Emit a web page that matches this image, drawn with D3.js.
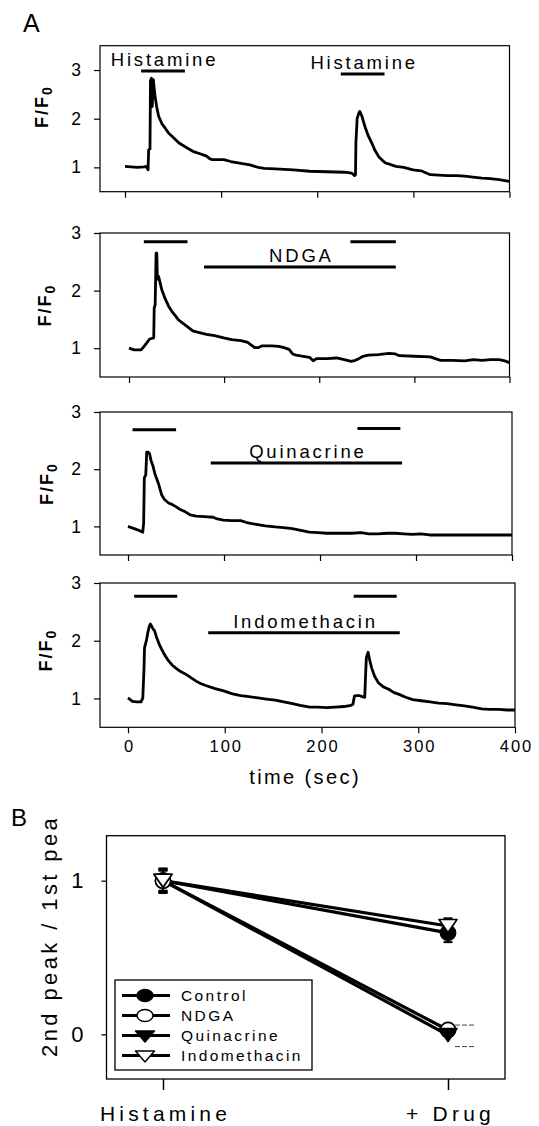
<!DOCTYPE html>
<html><head><meta charset="utf-8">
<script src="https://cdn.jsdelivr.net/npm/d3@7"></script>
<style>
body{margin:0;background:#fff}
svg{display:block}
text{font-family:"Liberation Sans",Arial,sans-serif;fill:#000}
</style>
</head><body>
<svg id="c" width="539" height="1126"></svg>
<script>
// ---------- DATA ----------
const timeTicks = [0, 100, 200, 300, 400];
const ratioTicks = [1, 2, 3];

const histamineTrace = [[0,1.02],[6,1.01],[13,1.0],[20,1.01],[22.2,1.02],[24,0.95],[24.6,1.36],[26,1.38],[26.5,2.78],[27.5,2.83],[28.3,2.25],[29.5,2.8],[31,2.5],[32.9,2.25],[35,2.05],[38.3,1.9],[42,1.8],[45.5,1.7],[50,1.62],[56.2,1.5],[63,1.42],[70.5,1.33],[78,1.28],[84.9,1.23],[88,1.18],[90,1.16],[94,1.16],[102.8,1.16],[110,1.12],[120.7,1.08],[130,1.05],[138.6,1.0],[145,0.98],[156.5,0.97],[175,0.95],[192.3,0.92],[210,0.91],[228.1,0.9],[236,0.88],[238.9,0.83],[239.8,0.85],[240.2,1.5],[241.5,2.0],[243,2.1],[244.2,2.15],[246.5,2.05],[249.6,1.84],[253,1.65],[256.8,1.5],[260,1.35],[263.9,1.22],[268,1.14],[271.1,1.09],[276,1.06],[281.8,1.02],[290,1.0],[299.7,0.95],[308,0.93],[317.6,0.85],[326,0.84],[335.5,0.83],[345,0.83],[353.4,0.82],[362,0.8],[371.3,0.78],[380,0.77],[389.3,0.75],[395,0.73],[400,0.71]];
const ndgaTrace = [[0,1.0],[5.4,0.97],[12.7,0.97],[16.3,1.04],[19,1.1],[21.7,1.16],[26,1.18],[26.5,1.7],[27.5,1.75],[28.5,2.65],[29.2,2.65],[29.8,2.2],[31,2.25],[34.4,2.02],[38,1.86],[41.6,1.73],[45,1.64],[48.9,1.56],[52,1.49],[56.1,1.44],[61,1.38],[67,1.3],[74,1.27],[81.5,1.24],[90,1.22],[99.6,1.18],[108,1.15],[117.7,1.13],[124.9,1.1],[128,1.06],[132.1,1.01],[136,1.01],[139.4,1.04],[150,1.04],[157.5,1.03],[163,1.01],[168.3,0.98],[172,0.9],[175.6,0.88],[183,0.86],[190,0.84],[193.7,0.78],[197,0.82],[208.2,0.82],[218,0.83],[226.3,0.8],[233.5,0.77],[238,0.79],[240.7,0.81],[246,0.86],[251.6,0.88],[262,0.89],[273.3,0.91],[280,0.9],[284.2,0.87],[300,0.86],[316.8,0.85],[322,0.82],[327.6,0.79],[340,0.79],[352.9,0.78],[362,0.8],[371,0.79],[380,0.8],[389.2,0.8],[395,0.78],[400,0.75]];
const quinacrineTrace = [[0,1.0],[5,0.97],[10,0.94],[15.4,0.9],[16.3,1.06],[17,1.85],[18.5,1.9],[19.5,2.3],[21,2.3],[22.5,2.27],[24,2.15],[26.1,2.05],[28,1.92],[31.5,1.76],[35.1,1.55],[38,1.47],[42.2,1.41],[45,1.39],[49.4,1.35],[55,1.29],[60.1,1.25],[65,1.2],[70.8,1.18],[80,1.17],[88.7,1.16],[93,1.13],[99.5,1.11],[108,1.1],[117.4,1.1],[125,1.06],[135.2,1.03],[143,1.01],[153.1,0.99],[162,0.98],[171,0.96],[180,0.93],[188.9,0.9],[198,0.89],[206.8,0.88],[215,0.88],[224.7,0.88],[233,0.88],[242.6,0.89],[251,0.87],[260.5,0.87],[270,0.88],[278.4,0.88],[287,0.87],[296.3,0.86],[305,0.87],[314.1,0.85],[323,0.85],[332,0.85],[350,0.85],[367.8,0.85],[385,0.85],[400,0.85]];
const indomethacinTrace = [[0,1.01],[4.6,0.95],[9,0.94],[13.5,0.94],[15.3,1.01],[16.5,1.5],[17.1,1.88],[19,2.0],[20.6,2.15],[22,2.25],[23.1,2.29],[24.5,2.25],[26,2.2],[27.5,2.17],[29.5,2.06],[32,1.95],[34.8,1.85],[38,1.75],[42,1.65],[45.5,1.58],[49.1,1.53],[54,1.47],[59.7,1.42],[65,1.36],[70.4,1.3],[75,1.26],[81.1,1.22],[90,1.17],[98.9,1.13],[108,1.08],[116.6,1.05],[125,1.03],[134.4,1.01],[143,0.99],[152.2,0.97],[161,0.94],[170,0.91],[178,0.88],[187.8,0.85],[196,0.85],[205.5,0.84],[214,0.85],[223.3,0.86],[230.4,0.88],[232.5,0.9],[234,1.04],[236,1.05],[239.3,1.05],[242,1.03],[244.7,1.02],[245.8,1.5],[246.4,1.71],[248.2,1.8],[250,1.65],[251.8,1.53],[255,1.38],[258.9,1.27],[264,1.2],[269.5,1.16],[275,1.1],[280.2,1.07],[287,1.02],[294.4,0.98],[303,0.96],[312.2,0.94],[321,0.92],[330,0.91],[339,0.89],[347.8,0.87],[356,0.85],[365.6,0.82],[374,0.81],[383.4,0.81],[392,0.8],[400,0.8]];

// application bars: [start sec, end sec, level]
const histamineBars = [[16.8,62.3,2.98],[224.5,270,2.92]];
const ndgaBars = [[15.6,61.5,2.85],[232.8,280.5,2.85],[78.9,280.5,2.41]];
const quinacrineBars = [[4.7,50.1,2.69],[239,283.7,2.71],[86.2,285.5,2.11]];
const indomethacinBars = [[6.4,50.9,2.77],[233.3,277.7,2.77],[82.9,280.9,2.14]];
const histamineBarLabels = ["Histamine","Histamine"];
const ndgaBarLabels = ["","","NDGA"];
const quinacrineBarLabels = ["","","Quinacrine"];
const indomethacinBarLabels = ["","","Indomethacin"];

// panel B
const conditions = ["Histamine", "+ Drug"];
const seriesNames = ["Control", "NDGA", "Quinacrine", "Indomethacin"];
const controlRatio = [1.0, 0.66];
const ndgaRatio = [1.0, 0.028];
const quinacrineRatio = [1.0, -0.005];
const indomethacinRatio = [1.0, 0.705];
const controlErr = [0.08, 0.06];
const ndgaErr = [0.07, 0];
const quinacrineErr = [0.065, 0];
const indomethacinErr = [0.075, 0.05];
const ratioTicksB = [0, 1];
const strayCaps = [0.06, -0.08];

// ---------- DRAW ----------
const svg = d3.select("#c");
const FONT = '"Liberation Sans",Arial,sans-serif';

svg.append("text").attr("x", 23).attr("y", 31.5).style("font-size","25px").text("A");

const panels = [
  {trace: histamineTrace, bars: histamineBars, labels: histamineBarLabels, top:45.7, bottom:191.7, ymax:3.5, x0:125, x400:509.5, labY:128, labX:48},
  {trace: ndgaTrace, bars: ndgaBars, labels: ndgaBarLabels, top:233, bottom:377, ymax:3, x0:129, x400:509.5, labY:326.5, labX:51},
  {trace: quinacrineTrace, bars: quinacrineBars, labels: quinacrineBarLabels, top:412, bottom:555, ymax:3, x0:128, x400:512, labY:505, labX:53},
  {trace: indomethacinTrace, bars: indomethacinBars, labels: indomethacinBarLabels, top:583, bottom:727.3, ymax:3, x0:128, x400:515, labY:671.5, labX:52}
];
const left = 100;

panels.forEach((p, i) => {
  const tLeft = (left - p.x0) / (p.x400 - p.x0) * 400;
  const x = d3.scaleLinear().domain([tLeft, 400]).range([left, p.x400]);
  const y = d3.scaleLinear().domain([0.5, p.ymax]).range([p.bottom, p.top]);
  const g = svg.append("g");

  g.append("rect").attr("x", left).attr("y", p.top).attr("width", p.x400 - left).attr("height", p.bottom - p.top)
    .attr("fill","none").attr("stroke","#000").attr("stroke-width",1.2);

  const ya = g.append("g").attr("transform", `translate(${left},0)`)
    .call(d3.axisLeft(y).tickValues(ratioTicks).tickSize(6).tickPadding(13).tickFormat(d3.format("d")));
  ya.select(".domain").remove();
  ya.selectAll("line").attr("stroke-width",1.2);
  ya.selectAll("text").style("font-size","17.5px").style("font-family",FONT).attr("fill","#000");

  const xa = g.append("g").attr("transform", `translate(0,${p.bottom})`)
    .call(d3.axisBottom(x).tickValues(timeTicks).tickSize(6).tickPadding(7));
  xa.select(".domain").remove();
  xa.selectAll("line").attr("stroke-width",1.2);
  if (i < 3) xa.selectAll("text").remove();
  else xa.selectAll("text").style("font-size","16.5px").style("font-family",FONT).style("letter-spacing","2px").attr("fill","#000").attr("dx","1px");

  const line = d3.line().x(d => x(d[0])).y(d => y(d[1]));
  g.append("path").datum(p.trace).attr("d", line).attr("fill","none").attr("stroke","#000")
    .attr("stroke-width",2.8).attr("stroke-linejoin","round");

  g.selectAll(".bar").data(p.bars).enter().append("line")
    .attr("x1", d => x(d[0])).attr("x2", d => x(d[1]))
    .attr("y1", d => y(d[2])).attr("y2", d => y(d[2]))
    .attr("stroke","#000").attr("stroke-width",3);

  g.selectAll(".blab").data(p.bars).enter().append("text")
    .attr("x", d => (x(d[0]) + x(d[1])) / 2 + 1.5)
    .attr("y", d => y(d[2]) - 4.8)
    .attr("text-anchor","middle").style("font-size","18.5px").style("letter-spacing","2.8px")
    .text((d, j) => p.labels[j]);

  const lab = g.append("text").attr("transform", `translate(${p.labX},${p.labY}) rotate(-90)`)
    .style("font-size","18px").style("font-weight","bold").style("letter-spacing","2px");
  lab.append("tspan").text("F/F");
  lab.append("tspan").attr("dy", 4).style("font-size","14px").text("0");

  if (i === 3) {
    svg.append("text").attr("x", x(182) + 1).attr("y", 784).attr("text-anchor","middle")
      .style("font-size","20px").style("letter-spacing","2.4px").text("time (sec)");
  }
});

// ---------- Panel B ----------
svg.append("text").attr("x", 11).attr("y", 826).style("font-size","24px").text("B");

const bL = 106.5, bR = 505, bT = 835.7, bB = 1079;
const xb = d3.scalePoint().domain(conditions).range([163, 448]);
const yb = d3.scaleLinear().domain([0, 1]).range([1034.3, 880.7]);

svg.append("rect").attr("x", bL).attr("y", bT).attr("width", bR - bL).attr("height", bB - bT)
  .attr("fill","none").attr("stroke","#000").attr("stroke-width",1.3);

const yba = svg.append("g").attr("transform", `translate(${bL},0)`)
  .call(d3.axisLeft(yb).tickValues(ratioTicksB).tickSize(5).tickPadding(18).tickFormat(d3.format("d")));
yba.select(".domain").remove();
yba.selectAll("line").attr("stroke-width",1.3);
yba.selectAll("text").style("font-size","22px").style("font-family",FONT).attr("fill","#000");

const xba = svg.append("g").attr("transform", `translate(0,${bB})`)
  .call(d3.axisBottom(xb).tickSize(11).tickPadding(16));
xba.select(".domain").remove();
xba.selectAll("line").attr("stroke-width",1.5);
xba.selectAll("text").style("font-size","21px").style("font-family",FONT).style("letter-spacing","4.2px")
  .attr("fill","#000").attr("dx","2px");

// y label, clipped at top like the reference
svg.append("clipPath").attr("id","ylabclip").append("rect").attr("x",0).attr("y",819).attr("width",100).attr("height",300);
svg.append("g").attr("clip-path","url(#ylabclip)")
  .append("text")
  .attr("transform","translate(57,1057) rotate(-90)")
  .style("font-size","22px").style("letter-spacing","3.4px").text("2nd peak / 1st peak");

const series = [
  {name: seriesNames[0], vals: controlRatio, err: controlErr, shape: "circle", fill: "#000"},
  {name: seriesNames[1], vals: ndgaRatio, err: ndgaErr, shape: "circle", fill: "#fff"},
  {name: seriesNames[2], vals: quinacrineRatio, err: quinacrineErr, shape: "tri", fill: "#000"},
  {name: seriesNames[3], vals: indomethacinRatio, err: indomethacinErr, shape: "tri", fill: "#fff"}
];

const lineB = d3.line().x((d, i) => xb(conditions[i])).y(d => yb(d));
series.forEach(s => {
  svg.append("path").datum(s.vals).attr("d", lineB).attr("fill","none").attr("stroke","#000").attr("stroke-width",3.2);
});
// error bars
series.forEach(s => {
  s.vals.forEach((v, i) => {
    const e = s.err[i]; if (!e) return;
    const cx = xb(conditions[i]);
    svg.append("line").attr("x1",cx).attr("x2",cx).attr("y1",yb(v+e)).attr("y2",yb(v-e)).attr("stroke","#000").attr("stroke-width",1.5);
    [v+e, v-e].forEach(c => svg.append("line").attr("x1",cx-4.5).attr("x2",cx+4.5).attr("y1",yb(c)).attr("y2",yb(c)).attr("stroke","#000").attr("stroke-width",2));
  });
});
strayCaps.forEach(c => svg.append("line").attr("x1", xb(conditions[1]) + 7).attr("x2", xb(conditions[1]) + 27)
  .attr("y1", yb(c)).attr("y2", yb(c)).attr("stroke","#444").attr("stroke-width",1).attr("stroke-dasharray","5,2"));

function triPath(cx, cy, w, h) {
  return `M${cx - w/2},${cy - h/2}L${cx + w/2},${cy - h/2}L${cx},${cy + h/2}Z`;
}
series.forEach(s => {
  s.vals.forEach((v, i) => {
    const cx = xb(conditions[i]), cy = yb(v);
    if (s.shape === "circle")
      svg.append("circle").attr("cx",cx).attr("cy",cy).attr("r",7.6).attr("fill",s.fill).attr("stroke","#000").attr("stroke-width",1.6);
    else
      svg.append("path").attr("d", triPath(cx, cy, 18, 13)).attr("fill",s.fill).attr("stroke","#000").attr("stroke-width",1.6).attr("stroke-linejoin","round");
  });
});

// legend
const lg = svg.append("g");
lg.append("rect").attr("x",115).attr("y",980).attr("width",197).attr("height",90).attr("fill","#fff").attr("stroke","#000").attr("stroke-width",1.3);
const rowY = d3.scalePoint().domain(seriesNames).range([995.5, 1055.5]);
series.forEach(s => {
  const yy = rowY(s.name);
  lg.append("line").attr("x1",122).attr("x2",170).attr("y1",yy).attr("y2",yy).attr("stroke","#000").attr("stroke-width",3);
  if (s.shape === "circle")
    lg.append("ellipse").attr("cx",145).attr("cy",yy).attr("rx",8).attr("ry",6).attr("fill",s.fill).attr("stroke","#000").attr("stroke-width",1.5);
  else
    lg.append("path").attr("d", triPath(145, yy + 1, 19, 11)).attr("fill",s.fill).attr("stroke","#000").attr("stroke-width",1.5).attr("stroke-linejoin","round");
  lg.append("text").attr("x",181).attr("y",yy + 5.5).style("font-size","15.5px").style("letter-spacing","2.4px").text(s.name);
});
</script>
</body></html>
